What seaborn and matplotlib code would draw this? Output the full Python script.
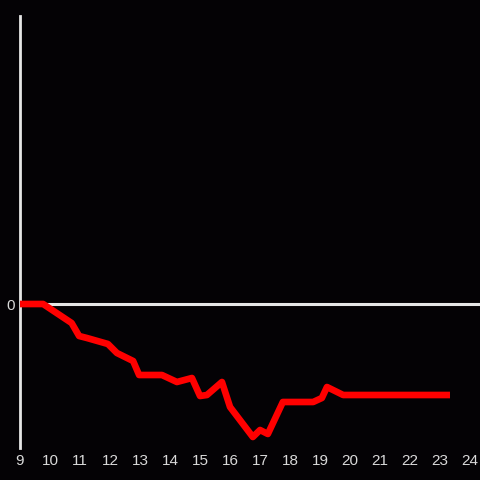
import matplotlib
matplotlib.use('Agg')
import matplotlib.pyplot as plt
import seaborn as sns
import pandas as pd

# Values
hours = [9.0, 9.77, 10.72, 10.97, 11.23, 11.93, 12.23, 12.77, 12.97, 13.73,
         14.23, 14.73, 15.0, 15.23, 15.73, 16.0, 16.76, 17.0, 17.26, 17.76,
         18.77, 19.06, 19.23, 19.77, 23.33]
values = [0, 0, -19, -32, -34, -40, -49, -57, -71, -71,
          -78, -74, -92, -91, -78, -103, -133, -126, -130, -98,
          -98, -94, -83, -91, -91]
x_ticks = list(range(9, 25))

df = pd.DataFrame({'hour': hours, 'value': values})

sns.set_style('dark')
plt.rcParams['font.family'] = ['Liberation Sans', 'DejaVu Sans']
bg = '#040205'

fig = plt.figure(figsize=(4.8, 4.8), dpi=100, facecolor=bg)
ax = fig.add_axes([20 / 480, 32 / 480, 460 / 480, 432 / 480])
ax.set_facecolor(bg)

sns.lineplot(data=df, x='hour', y='value', ax=ax, color='#ff0000',
             linewidth=4.8, estimator=None, zorder=3, solid_capstyle='butt')
ax.axhline(0, color='#e6e6e6', linewidth=2.2, zorder=2)

ax.set_xlim(9, 24.33)
ax.set_ylim(-144, 288)
ax.set_xticks(x_ticks)
ax.set_yticks([0])
ax.tick_params(colors='#d9d9d9', labelsize=11, length=0, pad=4)
ax.set_xlabel('')
ax.set_ylabel('')
ax.grid(False)

for s in ['top', 'right', 'bottom']:
    ax.spines[s].set_visible(False)
ax.spines['left'].set_color('#e6e6e6')
ax.spines['left'].set_linewidth(2.0)

fig.savefig('out.png', dpi=100, facecolor=bg)
